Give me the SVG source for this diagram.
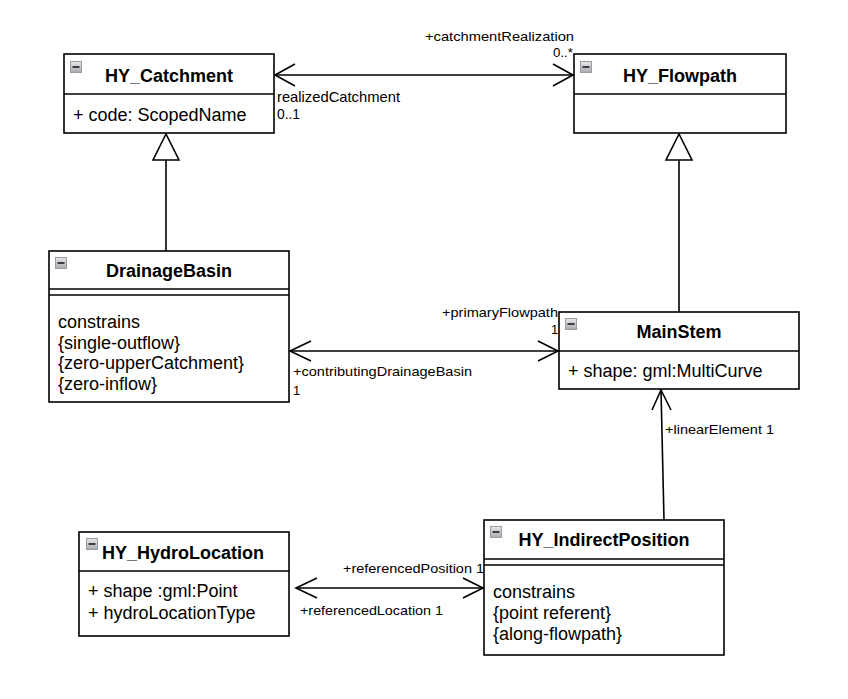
<svg xmlns="http://www.w3.org/2000/svg" width="848" height="699" viewBox="0 0 848 699">
<defs>
<linearGradient id="ig" x1="0" y1="0" x2="0" y2="1">
<stop offset="0" stop-color="#e8e8ea"/>
<stop offset="1" stop-color="#a9aab0"/>
</linearGradient>
<g id="icon">
<rect x="0.5" y="0.5" width="11" height="11" fill="url(#ig)" stroke="#9a9ca4"/>
<rect x="2.5" y="5" width="7" height="2" fill="#3b3d44"/>
</g>
</defs>
<style>
.box{fill:#fff;stroke:#000;stroke-width:1.6}
.ln{stroke:#000;stroke-width:1.6;fill:none}
.t{font-family:"Liberation Sans",Arial,sans-serif;font-size:18px;font-weight:bold;fill:#000}
.a{font-family:"Liberation Sans",Arial,sans-serif;font-size:18px;fill:#000}
.l{font-family:"Liberation Sans",Arial,sans-serif;font-size:13px;fill:#000}
.lb{font-family:"Liberation Sans",Arial,sans-serif;font-size:14.5px;fill:#000}
.c{stroke:#000;stroke-width:1.6;fill:none}
.tri{stroke:#000;stroke-width:1.6;fill:#fff}
</style>
<rect width="848" height="699" fill="#fff"/>

<g id="connectors">
<!-- HY_Catchment <-> HY_Flowpath -->
<line class="c" x1="275" y1="75" x2="574" y2="75"/>
<polyline class="c" points="295,64 275,75 295,86"/>
<polyline class="c" points="553,64 573,75 553,86"/>
<text class="l" x="425" y="41" textLength="149" lengthAdjust="spacingAndGlyphs">+catchmentRealization</text>
<text class="l" x="553" y="57" textLength="20" lengthAdjust="spacingAndGlyphs">0..*</text>
<text class="lb" x="277" y="102" textLength="123" lengthAdjust="spacingAndGlyphs">realizedCatchment</text>
<text class="lb" x="277" y="119" textLength="23" lengthAdjust="spacingAndGlyphs">0..1</text>
<!-- generalization DrainageBasin -> HY_Catchment -->
<line class="c" x1="166" y1="160" x2="166" y2="251"/>
<polygon class="tri" points="166,134 153,160 179,160"/>
<!-- generalization MainStem -> HY_Flowpath -->
<line class="c" x1="679" y1="160" x2="679" y2="312"/>
<polygon class="tri" points="679,134 666,160 692,160"/>
<!-- DrainageBasin <-> MainStem -->
<line class="c" x1="290" y1="351" x2="559" y2="351"/>
<polyline class="c" points="311,341 290,351 311,361"/>
<polyline class="c" points="538,341 558,351 538,361"/>
<text class="l" x="442" y="317" textLength="116" lengthAdjust="spacingAndGlyphs">+primaryFlowpath</text>
<text class="l" x="551" y="334">1</text>
<text class="l" x="293" y="376" textLength="179" lengthAdjust="spacingAndGlyphs">+contributingDrainageBasin</text>
<text class="l" x="293" y="395">1</text>
<!-- IndirectPosition -> MainStem -->
<line class="c" x1="664" y1="520" x2="661" y2="390"/>
<polyline class="c" points="652,410 661,390 671,410"/>
<text class="l" x="665" y="434" textLength="109" lengthAdjust="spacingAndGlyphs">+linearElement 1</text>
<!-- HydroLocation <-> IndirectPosition -->
<line class="c" x1="296" y1="588" x2="484" y2="588"/>
<polyline class="c" points="317,578 296,588 317,598"/>
<polyline class="c" points="463,578 483,588 463,598"/>
<text class="l" x="343" y="573" textLength="141" lengthAdjust="spacingAndGlyphs">+referencedPosition 1</text>
<text class="l" x="300" y="615" textLength="143" lengthAdjust="spacingAndGlyphs">+referencedLocation 1</text>
</g>

<g id="HY_Catchment">
<rect class="box" x="64" y="54" width="210" height="79"/>
<line class="ln" x1="64" y1="94" x2="274" y2="94"/>
<use href="#icon" x="70" y="61"/>
<text class="t" x="169" y="82" text-anchor="middle">HY_Catchment</text>
<text class="a" x="73" y="121">+ code: ScopedName</text>
</g>

<g id="HY_Flowpath">
<rect class="box" x="574" y="54" width="212" height="79"/>
<line class="ln" x1="574" y1="94" x2="786" y2="94"/>
<use href="#icon" x="580" y="61"/>
<text class="t" x="680" y="82" text-anchor="middle">HY_Flowpath</text>
</g>

<g id="DrainageBasin">
<rect class="box" x="49" y="251" width="240" height="151"/>
<line class="ln" x1="49" y1="289" x2="289" y2="289"/>
<line class="ln" x1="49" y1="295" x2="289" y2="295"/>
<use href="#icon" x="55" y="257"/>
<text class="t" x="169" y="277" text-anchor="middle">DrainageBasin</text>
<text class="a" x="58" y="328">constrains</text>
<text class="a" x="58" y="348.5">{single-outflow}</text>
<text class="a" x="58" y="369">{zero-upperCatchment}</text>
<text class="a" x="58" y="389.5">{zero-inflow}</text>
</g>

<g id="MainStem">
<rect class="box" x="559" y="312" width="240" height="77"/>
<line class="ln" x1="559" y1="351" x2="799" y2="351"/>
<use href="#icon" x="565" y="318"/>
<text class="t" x="679" y="338" text-anchor="middle">MainStem</text>
<text class="a" x="568" y="377">+ shape: gml:MultiCurve</text>
</g>

<g id="HY_IndirectPosition">
<rect class="box" x="484" y="520" width="240" height="135"/>
<line class="ln" x1="484" y1="559" x2="724" y2="559"/>
<line class="ln" x1="484" y1="565" x2="724" y2="565"/>
<use href="#icon" x="490" y="526"/>
<text class="t" x="604" y="546" text-anchor="middle">HY_IndirectPosition</text>
<text class="a" x="493" y="598">constrains</text>
<text class="a" x="493" y="619">{point referent}</text>
<text class="a" x="493" y="640">{along-flowpath}</text>
</g>

<g id="HY_HydroLocation">
<rect class="box" x="79" y="532" width="210" height="104"/>
<line class="ln" x1="79" y1="571" x2="289" y2="571"/>
<use href="#icon" x="86" y="538"/>
<text class="t" x="102" y="559">HY_HydroLocation</text>
<text class="a" x="88" y="597">+ shape :gml:Point</text>
<text class="a" x="88" y="619">+ hydroLocationType</text>
</g>
</svg>
